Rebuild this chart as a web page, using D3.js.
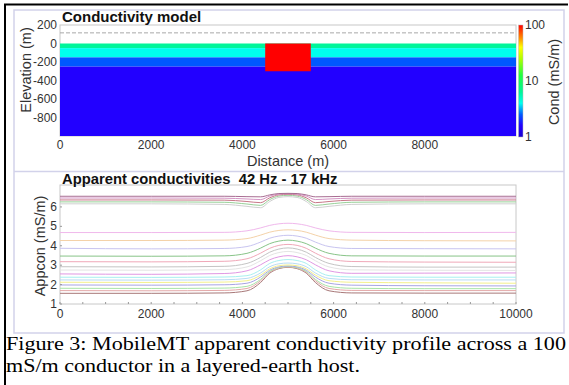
<!DOCTYPE html>
<html><head><meta charset="utf-8">
<script src="https://cdn.jsdelivr.net/npm/d3@7"></script>
<style>body{margin:0;background:#fff} svg{display:block}</style>
</head><body><svg id="c" width="569" height="385"></svg>
<script>
// ---------- data ----------
const modelXTicks = [0, 2000, 4000, 6000, 8000];
const elevTicks = [200, 0, -200, -400, -600, -800];
const layerTop = [0, -50, -150, -250];
const layerBottom = [-50, -150, -250, -1000];
const layerCond = [6.3, 4, 2.5, 1.6];
const blockX = [4500, 5500];
const blockZ = [0, -300];
const blockCond = 100;
const sensorX = [0, 10000];
const sensorElev = [115, 115];
const cbarTicks = [1, 10, 100];
const cmapCond = [1, 1.6, 2.5, 4, 6.3, 12.6, 25, 40, 58, 100];
const cmapColors = ["#1800d0", "#2200ff", "#0058ff", "#00ffee", "#00f59a", "#20ff40", "#b0ff00", "#ffff00", "#ff9000", "#ff0000"];

const appTicksY = [1, 2, 3, 4, 5, 6];
const appTicksX = [0, 2000, 4000, 6000, 8000, 10000];
const profX = [0, 2000, 3600, 4100, 4400, 4600, 4800, 5000, 5200, 5400, 5600, 5900, 6400, 8000, 10000];
const appcon = [
  [6.55,6.55,6.55,6.53,6.52,6.62,6.69,6.70,6.69,6.62,6.52,6.53,6.55,6.55,6.55],
  [6.46,6.46,6.45,6.41,6.38,6.56,6.66,6.68,6.66,6.56,6.38,6.41,6.45,6.46,6.46],
  [6.36,6.36,6.35,6.28,6.22,6.47,6.62,6.65,6.62,6.47,6.22,6.28,6.35,6.36,6.36],
  [6.26,6.26,6.24,6.15,6.08,6.38,6.56,6.60,6.56,6.38,6.08,6.15,6.24,6.26,6.26],
  [6.16,6.16,6.13,6.03,5.96,6.28,6.49,6.53,6.49,6.28,5.96,6.03,6.13,6.16,6.16],
  [4.68,4.68,4.69,4.77,4.92,5.05,5.13,5.16,5.13,5.05,4.92,4.77,4.69,4.68,4.69],
  [4.27,4.27,4.29,4.37,4.55,4.70,4.79,4.82,4.79,4.70,4.55,4.37,4.29,4.26,4.25],
  [3.87,3.84,3.86,3.96,4.19,4.39,4.50,4.54,4.50,4.39,4.19,3.96,3.86,3.85,3.84],
  [3.47,3.46,3.48,3.61,3.88,4.11,4.24,4.29,4.24,4.11,3.88,3.61,3.48,3.47,3.47],
  [3.18,3.17,3.20,3.33,3.62,3.87,4.02,4.07,4.02,3.87,3.62,3.33,3.19,3.16,3.15],
  [2.92,2.91,2.94,3.09,3.40,3.67,3.83,3.89,3.83,3.67,3.40,3.09,2.93,2.90,2.90],
  [2.75,2.74,2.77,2.91,3.23,3.50,3.65,3.71,3.65,3.50,3.23,2.91,2.76,2.74,2.73],
  [2.55,2.53,2.57,2.71,3.02,3.28,3.43,3.49,3.43,3.28,3.02,2.71,2.58,2.59,2.60],
  [2.38,2.37,2.39,2.46,2.76,3.09,3.24,3.29,3.24,3.09,2.76,2.46,2.39,2.38,2.38],
  [2.24,2.23,2.25,2.32,2.60,2.92,3.07,3.11,3.07,2.92,2.60,2.32,2.25,2.24,2.24],
  [2.12,2.11,2.13,2.20,2.49,2.81,2.97,3.01,2.97,2.81,2.49,2.20,2.12,2.09,2.07],
  [1.98,1.97,1.99,2.07,2.39,2.74,2.91,2.96,2.91,2.74,2.39,2.07,1.97,1.94,1.93],
  [1.81,1.80,1.82,1.91,2.27,2.68,2.87,2.93,2.87,2.68,2.27,1.91,1.81,1.79,1.79],
  [1.69,1.68,1.70,1.80,2.20,2.64,2.85,2.91,2.85,2.64,2.20,1.80,1.70,1.69,1.69],
  [1.55,1.55,1.57,1.68,2.11,2.59,2.82,2.89,2.82,2.59,2.11,1.68,1.57,1.56,1.56]
];
const appconColors = ["#a86c92","#d494c4","#c87888","#98d098","#d0d0d0",
  "#f0b8ec","#f4d2a8","#c8c4f0","#88c488","#f0a8b8","#c4c4c4","#e4e4e4","#e098e4",
  "#a8f0f0","#b8dcf4","#f4f08c","#a8a4e4","#a8e4a8","#e4a8a8","#a87878"];

const captionLines = ["Figure 3: MobileMT apparent conductivity profile across a 100",
                      "mS/m conductor in a layered-earth host."];

// ---------- drawing ----------
const svg = d3.select("#c");
const sans = "Liberation Sans, Arial, sans-serif";
const tickCol = "#333";

svg.append("rect").attr("x",0).attr("y",0).attr("width",569).attr("height",385).attr("fill","#fff");
svg.append("rect").attr("x",14).attr("y",10).attr("width",550).attr("height",323)
  .attr("fill","none").attr("stroke","#d2d2ea").attr("stroke-width",1.5);
svg.append("line").attr("x1",14).attr("x2",564).attr("y1",171.5).attr("y2",171.5)
  .attr("stroke","#d2d2ea").attr("stroke-width",1.5);
svg.append("line").attr("x1",5).attr("x2",5).attr("y1",4).attr("y2",385).attr("stroke","#000").attr("stroke-width",2);
svg.append("line").attr("x1",4).attr("x2",568).attr("y1",4.5).attr("y2",4.5).attr("stroke","#000").attr("stroke-width",2);

// ---- top panel: model ----
const xM = d3.scaleLinear().domain([0, 10000]).range([60, 516]);
const yM = d3.scaleLinear().domain([-1000, 200]).range([136, 25]);
const cScale = d3.scaleLog().domain(cmapCond).range(cmapColors).interpolate(d3.interpolateRgb);

const gM = svg.append("g");
gM.append("rect").attr("x", xM(0)).attr("y", yM(200)).attr("width", xM(10000)-xM(0)).attr("height", yM(-1000)-yM(200))
  .attr("fill","#fff").attr("stroke","#c8c8c8").attr("stroke-width",1);
gM.selectAll("rect.layer").data(layerCond).join("rect").attr("class","layer")
  .attr("x", xM(0)).attr("width", xM(10000)-xM(0))
  .attr("y", (d,i)=>yM(layerTop[i])).attr("height",(d,i)=>yM(layerBottom[i])-yM(layerTop[i]))
  .attr("fill", d=>cScale(d));
gM.append("rect").attr("x", xM(blockX[0])).attr("width", xM(blockX[1])-xM(blockX[0]))
  .attr("y", yM(blockZ[0])).attr("height", yM(blockZ[1])-yM(blockZ[0])).attr("fill", cScale(blockCond));
gM.append("path").datum(sensorX.map((x,i)=>[x,sensorElev[i]]))
  .attr("d", d3.line().x(d=>xM(d[0])).y(d=>yM(d[1])))
  .attr("stroke","#a8a8a8").attr("stroke-width",1).attr("stroke-dasharray","4,2").attr("fill","none");

gM.selectAll("text.xt").data(modelXTicks).join("text").attr("class","xt")
  .attr("x", d=>xM(d)).attr("y",149).attr("text-anchor","middle")
  .attr("font-family",sans).attr("font-size",12).attr("fill",tickCol).text(d=>String(d));
gM.selectAll("text.yt").data(elevTicks).join("text").attr("class","yt")
  .attr("x",57).attr("y", d=>yM(d)+4).attr("text-anchor","end")
  .attr("font-family",sans).attr("font-size",12).attr("fill",tickCol).text(d=>String(d));
gM.append("text").attr("x",288).attr("y",166).attr("text-anchor","middle")
  .attr("font-family",sans).attr("font-size",14.5).attr("fill",tickCol).text("Distance (m)");
gM.append("text").attr("transform","translate(31,70) rotate(-90)").attr("text-anchor","middle")
  .attr("font-family",sans).attr("font-size",14.5).attr("fill",tickCol).text("Elevation (m)");
gM.append("text").attr("x",62).attr("y",22).attr("font-family",sans).attr("font-weight","bold")
  .attr("font-size",15).attr("fill","#111").text("Conductivity model");

// colorbar
const defs = svg.append("defs");
const grad = defs.append("linearGradient").attr("id","cb").attr("x1",0).attr("y1",1).attr("x2",0).attr("y2",0);
grad.selectAll("stop").data(cmapCond).join("stop")
  .attr("offset", d=>Math.log10(d)/2).attr("stop-color",(d,i)=>cmapColors[i]);
const yC = d3.scaleLog().domain([1,100]).range([137,25]);
svg.append("rect").attr("x",518.5).attr("y",yC(100)).attr("width",4.5).attr("height",yC(1)-yC(100))
  .attr("fill","url(#cb)").attr("stroke","#bbb").attr("stroke-width",0.5);
svg.selectAll("text.cbt").data(cbarTicks).join("text").attr("class","cbt")
  .attr("x",525).attr("y", d=>yC(d)+4).attr("font-family",sans).attr("font-size",12).attr("fill",tickCol).text(d=>String(d));
svg.append("text").attr("transform","translate(559,82) rotate(-90)").attr("text-anchor","middle")
  .attr("font-family",sans).attr("font-size",14.5).attr("fill",tickCol).text("Cond (mS/m)");

// ---- bottom panel: apparent conductivity ----
const xA = d3.scaleLinear().domain([0, 10000]).range([60, 516]);
const yA = d3.scaleLinear().domain([1, 7.13]).range([304, 185]);
const gA = svg.append("g");
gA.append("rect").attr("x", xA(0)).attr("y", yA(7.13)).attr("width", xA(10000)-xA(0)).attr("height", yA(1)-yA(7.13))
  .attr("fill","#fff").attr("stroke","#c8c8c8").attr("stroke-width",1);
const line = d3.line().x((d,i)=>xA(profX[i])).y(d=>yA(d)).curve(d3.curveMonotoneX);
gA.selectAll("path.prof").data(appcon.slice().reverse()).join("path").attr("class","prof")
  .attr("d", line).attr("fill","none").attr("stroke-width",1)
  .attr("stroke",(d,i)=>appconColors[appcon.length-1-i]);
gA.selectAll("line.mt").data(d3.range(0, 10001, 500)).join("line").attr("class","mt")
  .attr("x1",d=>xA(d)).attr("x2",d=>xA(d)).attr("y1",yA(1)).attr("y2",yA(1)-2).attr("stroke","#999");
gA.selectAll("line.myt").data(appTicksY).join("line").attr("class","myt")
  .attr("x1",xA(0)).attr("x2",xA(0)+2).attr("y1",d=>yA(d)).attr("y2",d=>yA(d)).attr("stroke","#999");
gA.selectAll("text.xt").data(appTicksX).join("text").attr("class","xt")
  .attr("x", d=>xA(d)).attr("y",318).attr("text-anchor","middle")
  .attr("font-family",sans).attr("font-size",12).attr("fill",tickCol).text(d=>String(d));
gA.selectAll("text.yt").data(appTicksY).join("text").attr("class","yt")
  .attr("x",57).attr("y", d=>yA(d)+4).attr("text-anchor","end")
  .attr("font-family",sans).attr("font-size",12).attr("fill",tickCol).text(d=>String(d));
gA.append("text").attr("transform","translate(45,246) rotate(-90)").attr("text-anchor","middle")
  .attr("font-family",sans).attr("font-size",14.5).attr("fill",tickCol).text("Appcon (mS/m)");
gA.append("text").attr("x",62).attr("y",184).attr("font-family",sans).attr("font-weight","bold")
  .attr("font-size",14.8).attr("fill","#111").style("white-space","pre").text("Apparent conductivities  42 Hz - 17 kHz");

// ---- caption ----
const serif = "Liberation Serif, Times New Roman, serif";
const cap = svg.append("g");
cap.append("text").attr("x",6).attr("y",350).attr("font-family",serif)
  .attr("font-size",19).attr("fill","#000")
  .attr("textLength",560).attr("lengthAdjust","spacingAndGlyphs").text(captionLines[0]);
cap.append("text").attr("x",6).attr("y",372).attr("font-family",serif)
  .attr("font-size",19).attr("fill","#000")
  .attr("textLength",354).attr("lengthAdjust","spacingAndGlyphs").text(captionLines[1]);
</script></body></html>
